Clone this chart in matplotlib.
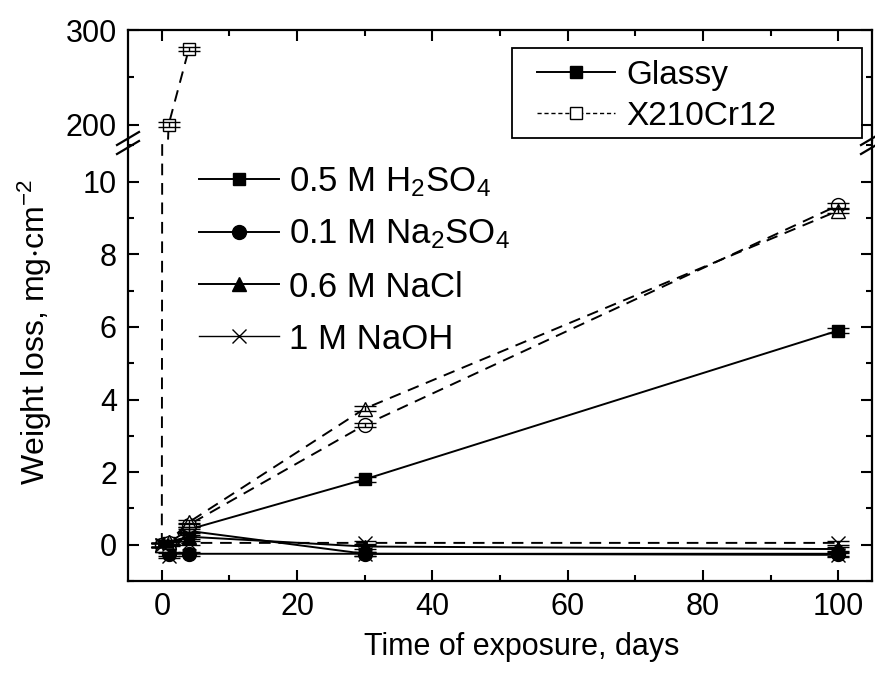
import matplotlib
matplotlib.use("Agg")
import matplotlib.pyplot as plt
from matplotlib.lines import Line2D
from matplotlib.patches import Rectangle
from matplotlib.ticker import MultipleLocator

plt.rcParams['font.family'] = ['Liberation Sans', 'DejaVu Sans']
plt.rcParams['mathtext.default'] = 'regular'

# exposure times, days
days = [0, 1, 4, 30, 100]
days_h2so4_steel = [0, 1, 4]

# glassy alloy, weight loss mg/cm2
glassy_h2so4 = [0.0, 0.05, 0.42, 1.8, 5.9]
glassy_na2so4 = [0.0, -0.25, -0.25, -0.25, -0.25]
glassy_nacl = [0.0, 0.08, 0.22, -0.05, -0.12]
glassy_naoh = [0.0, -0.3, 0.38, -0.25, -0.28]

# X210Cr12 steel
steel_h2so4 = [0.0, 200.0, 280.0]
steel_na2so4 = [0.0, 0.05, 0.55, 3.3, 9.35]
steel_nacl = [0.0, 0.08, 0.62, 3.75, 9.2]
steel_naoh = [0.0, 0.02, 0.05, 0.05, 0.05]

# error bar half widths
err_small = [0.06, 0.06, 0.06, 0.06, 0.06]
err_h2so4_steel = [0.06, 2.5, 2.5]

solutions = [r'0.5 M H$_2$SO$_4$', r'0.1 M Na$_2$SO$_4$', '0.6 M NaCl', '1 M NaOH']
materials = ['Glassy', 'X210Cr12']

fig = plt.figure(figsize=(8.75, 6.73), dpi=100)
L, R = 128 / 875, 872 / 875
y_top, y_brk, y_bot = 1 - 30 / 673, 1 - 140 / 673, 1 - 581 / 673
ax_top = fig.add_axes([L, y_brk, R - L, y_top - y_brk])
ax = fig.add_axes([L, y_bot, R - L, y_brk - y_bot])

lw = 1.4


def series(x, y, marker, ls, filled, ms, err):
    mfc = 'black' if filled else 'white'
    for a in (ax, ax_top):
        line, = a.plot(x, y, ls=ls, color='black', lw=lw, marker=marker, ms=ms,
                       mfc=mfc, mec='black', mew=1.0, zorder=3)
        if ls == '--':
            line.set_dashes((6, 4))
        a.errorbar(x, y, yerr=err, fmt='none', ecolor='black', elinewidth=1.0,
                   capsize=8, capthick=1.0, zorder=4)


series(days, glassy_h2so4, 's', '-', True, 9, err_small)
series(days, glassy_na2so4, 'o', '-', True, 10, err_small)
series(days, glassy_nacl, '^', '-', True, 10, err_small)
series(days, glassy_naoh, 'x', '-', True, 10, err_small)

series(days_h2so4_steel, steel_h2so4, 's', '--', False, 9, err_h2so4_steel)
series(days, steel_na2so4, 'o', '--', False, 10, err_small)
series(days, steel_nacl, '^', '--', False, 10, err_small)
series(days, steel_naoh, 'x', '--', False, 10, err_small)

for a in (ax, ax_top):
    a.set_xlim(-5, 105)
    a.xaxis.set_major_locator(MultipleLocator(20))
    a.xaxis.set_minor_locator(MultipleLocator(10))
    a.tick_params(which='both', direction='in', width=1.5, labelsize=22,
                  left=True, right=True)
    a.tick_params(which='major', length=8)
    a.tick_params(which='minor', length=4)
    for s in a.spines.values():
        s.set_linewidth(1.6)

ax.set_ylim(-1, 11.15)
ax.yaxis.set_major_locator(MultipleLocator(2))
ax.yaxis.set_minor_locator(MultipleLocator(1))
ax.spines['top'].set_visible(False)
ax.tick_params(which='both', top=False, bottom=True)
ax.tick_params(axis='x', pad=8)
ax.tick_params(axis='y', pad=8)

ax_top.set_ylim(184, 300)
ax_top.yaxis.set_major_locator(MultipleLocator(100))
ax_top.yaxis.set_minor_locator(MultipleLocator(50))
ax_top.spines['bottom'].set_visible(False)
ax_top.tick_params(which='both', top=True, bottom=False, labelbottom=False)
ax_top.tick_params(axis='y', pad=8)

# axis break marks
for xp in (L, R):
    x0 = xp * 875
    for dy in (0, 9):
        fig.add_artist(Line2D([(x0 - 11) / 875, (x0 + 11) / 875],
                              [1 - (145 + dy) / 673, 1 - (132 + dy) / 673],
                              color='black', lw=1.6))

fig.text(0.040, 1 - 332 / 673, r'Weight loss, mg$\cdot$cm$^{-2}$', rotation=90,
         ha='center', va='center', fontsize=23)
fig.text(522 / 875, 1 - 647 / 673, 'Time of exposure, days', ha='center',
         va='center', fontsize=22)

# legends
sol_handles = [
    Line2D([], [], color='black', lw=lw, marker='s', ms=9, mfc='black', mec='black'),
    Line2D([], [], color='black', lw=lw, marker='o', ms=10, mfc='black', mec='black'),
    Line2D([], [], color='black', lw=lw, marker='^', ms=10, mfc='black', mec='black'),
    Line2D([], [], color='black', lw=1.0, marker='x', ms=10, mfc='black', mec='black'),
]
fig.legend(sol_handles, solutions, loc='upper left', frameon=False,
           bbox_to_anchor=(192 / 875, 1 - 158 / 673), fontsize=25,
           handlelength=2.3, handletextpad=0.3, labelspacing=0.55,
           borderpad=0.2, borderaxespad=0)

mat_handles = [
    Line2D([], [], color='black', lw=lw, marker='s', ms=9, mfc='black', mec='black'),
    Line2D([], [], color='black', lw=1.0, ls='--', dashes=(3, 2), marker='s', ms=9,
           mfc='white', mec='black'),
]
fig.legend(mat_handles, materials, loc='upper left', frameon=False,
           bbox_to_anchor=(530 / 875, 1 - 53 / 673), fontsize=24,
           handlelength=2.35, handletextpad=0.35, labelspacing=0.3,
           borderpad=0.2, borderaxespad=0)
fig.add_artist(Rectangle((512 / 875, 1 - 138 / 673), 350 / 875, 90 / 673,
                         transform=fig.transFigure, fill=False, ec='black', lw=1.3))

fig.savefig('out.png', dpi=100)
